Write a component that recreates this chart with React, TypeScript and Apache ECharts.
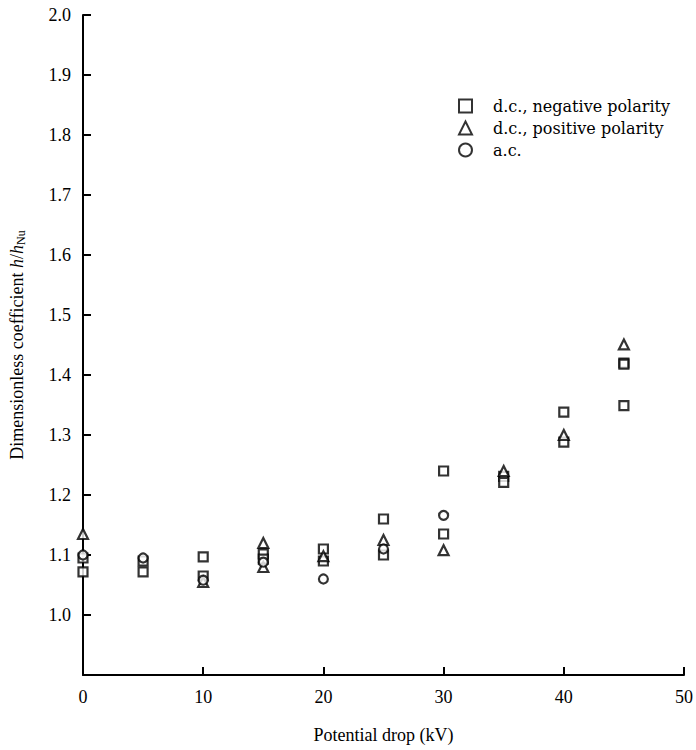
import React, { useEffect, useRef } from "react";
import * as echarts from "echarts";

const xTicks = [0, 10, 20, 30, 40, 50];
const yTicks = [1.0, 1.1, 1.2, 1.3, 1.4, 1.5, 1.6, 1.7, 1.8, 1.9, 2.0];

// d.c., negative polarity (squares)
const negX = [0, 0, 5, 5, 10, 10, 15, 15, 20, 20, 25, 25, 30, 30, 35, 35, 40, 40, 45, 45, 45];
const negY = [1.095, 1.072, 1.09, 1.072, 1.097, 1.065, 1.102, 1.093, 1.11, 1.09, 1.16, 1.1, 1.24, 1.135, 1.231, 1.221, 1.338, 1.288, 1.42, 1.418, 1.349];

// d.c., positive polarity (triangles)
const posX = [0, 10, 15, 15, 20, 25, 30, 35, 40, 45];
const posY = [1.135, 1.055, 1.12, 1.08, 1.098, 1.125, 1.108, 1.24, 1.3, 1.451];

// a.c. (circles)
const acX = [0, 5, 10, 15, 20, 25, 30];
const acY = [1.1, 1.095, 1.058, 1.088, 1.06, 1.11, 1.166];

const pairs = (xs: number[], ys: number[]) => xs.map((x, i) => [x, ys[i]]);

const FONT = "Liberation Serif";

export default function App() {
  const ref = useRef<HTMLDivElement>(null);
  useEffect(() => {
    if (!ref.current) return;
    const chart = echarts.init(ref.current, null, { renderer: "svg" });
    const markerStyle = { color: "#fff", borderColor: "#000", borderWidth: 2.2 };
    chart.setOption({
      animation: false,
      backgroundColor: "#fff",
      grid: { left: 81, top: 15, right: 12, bottom: 75, containLabel: false },
      legend: {
        orient: "vertical",
        left: 453,
        top: 93,
        itemGap: 6,
        itemWidth: 13,
        itemHeight: 13,
        textStyle: { fontFamily: "DejaVu Serif", fontSize: 16, color: "#000", padding: [0, 0, 0, 16] },
        data: ["d.c., negative polarity", "d.c., positive polarity", "a.c."],
      },
      xAxis: {
        type: "value",
        min: xTicks[0],
        max: xTicks[xTicks.length - 1],
        interval: 10,
        name: "Potential drop (kV)",
        nameLocation: "middle",
        nameGap: 51,
        nameTextStyle: { fontFamily: FONT, fontSize: 18, color: "#000" },
        axisLine: { lineStyle: { color: "#000", width: 2 } },
        axisTick: { inside: true, length: 8, lineStyle: { color: "#000", width: 2 } },
        axisLabel: { fontFamily: FONT, fontSize: 18, color: "#000", margin: 13 },
        splitLine: { show: false },
      },
      yAxis: {
        type: "value",
        min: 0.9,
        max: yTicks[yTicks.length - 1],
        interval: 0.1,
        name: "Dimensionless coefficient {i|h}/{i|h}{sub|Nu}",
        nameLocation: "middle",
        nameGap: 56,
        nameRotate: 90,
        nameTextStyle: {
          fontFamily: FONT,
          fontSize: 18,
          color: "#000",
          rich: {
            i: { fontFamily: FONT, fontSize: 18, fontStyle: "italic", color: "#000" },
            sub: { fontFamily: FONT, fontSize: 12, color: "#000", verticalAlign: "bottom", padding: [8, 0, 0, 0] },
          },
        },
        axisLine: { show: true, lineStyle: { color: "#000", width: 2 } },
        axisTick: { inside: true, length: 8, lineStyle: { color: "#000", width: 2 } },
        axisLabel: {
          fontFamily: FONT,
          fontSize: 18,
          color: "#000",
          margin: 12,
          formatter: (v: number) => {
            const r = Math.round(v * 10) / 10;
            return yTicks.some((t) => Math.abs(t - r) < 1e-6) ? r.toFixed(1) : "";
          },
        },
        splitLine: { show: false },
      },
      series: [
        {
          name: "d.c., negative polarity",
          type: "scatter",
          symbol: "rect",
          symbolSize: 9,
          itemStyle: markerStyle,
          data: pairs(negX, negY),
        },
        {
          name: "d.c., positive polarity",
          type: "scatter",
          symbol: "triangle",
          symbolSize: 10,
          itemStyle: markerStyle,
          data: pairs(posX, posY),
        },
        {
          name: "a.c.",
          type: "scatter",
          symbol: "circle",
          symbolSize: 9,
          itemStyle: markerStyle,
          data: pairs(acX, acY),
        },
      ],
    });
    return () => chart.dispose();
  }, []);
  return <div ref={ref} style={{ position: "absolute", left: 0, top: 0, width: 696, height: 750 }} />;
}
